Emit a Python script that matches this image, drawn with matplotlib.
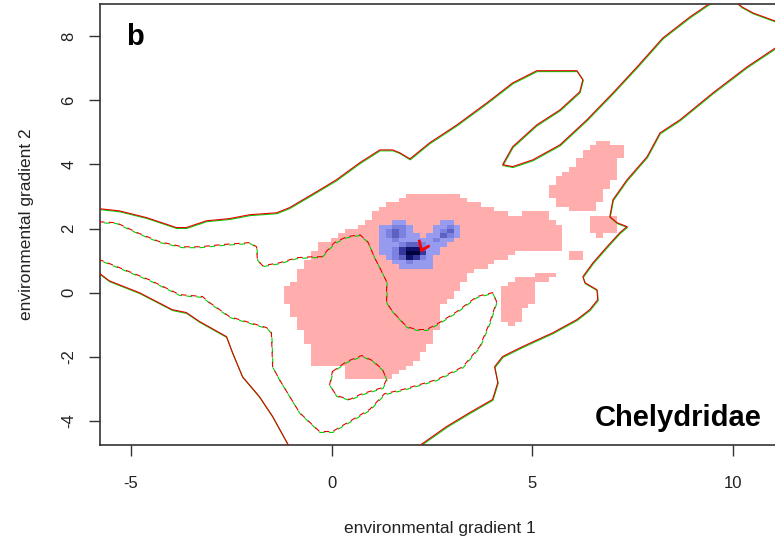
import numpy as np
import matplotlib
matplotlib.use("Agg")
import matplotlib.pyplot as plt
from matplotlib.path import Path
from matplotlib.transforms import offset_copy
from matplotlib.colors import to_rgba

plt.rcParams['font.family'] = ['Liberation Sans', 'DejaVu Sans']
plt.rcParams['axes.unicode_minus'] = False

# axis extent = extent of the 100 x 100 niche grid
XLIM = (-5.77, 11.17)
YLIM = (-4.75, 9.0)
NGRID = 100

XTICKS = [-5, 0, 5, 10]
YTICKS = [-4, -2, 0, 2, 4, 6, 8]
XTICK_LABELS = ['-5', '0', '5', '10']
YTICK_LABELS = ['-4', '-2', '0', '2', '4', '6', '8']
XLABEL = "environmental gradient 1"
YLABEL = "environmental gradient 2"
PANEL = "b"
TAXON = "Chelydridae"

# occupied niche of species 1 (pink cells), outlines
PINK_MAIN = [(1.70, 2.90), (2.02, 3.12), (3.19, 3.12), (3.37, 2.83), (3.89, 2.68),
             (4.39, 2.49), (4.56, 2.40), (4.76, 2.55), (5.26, 2.55), (5.39, 2.43),
             (5.61, 2.18), (5.76, 1.90), (5.76, 1.28), (4.56, 1.28), (4.24, 1.03),
             (3.74, 0.78), (3.39, 0.50), (3.19, 0.19), (3.07, -0.09), (2.87, -0.28),
             (2.62, -0.37), (2.69, -1.00), (2.52, -1.46), (2.19, -1.99), (1.95, -2.31),
             (1.50, -2.65), (0.32, -2.65), (0.32, -2.34), (-0.50, -2.34), (-0.50, -1.71),
             (-0.67, -1.40), (-0.87, -0.84), (-1.00, -0.59), (-1.17, -0.28), (-1.17, 0.09),
             (-0.87, 0.50), (-0.72, 0.93), (-0.50, 1.18), (-0.35, 1.50), (0.00, 1.65),
             (0.15, 1.87), (0.65, 2.02), (0.82, 2.18), (1.00, 2.43), (1.20, 2.68)]
PINK_A = [(6.48, 4.61), (6.78, 4.77), (7.31, 4.49), (7.31, 4.24), (7.11, 4.24),
          (7.11, 3.52), (6.76, 3.21), (6.61, 2.55), (6.11, 2.55), (5.61, 2.74),
          (5.41, 2.99), (5.41, 3.27), (5.76, 3.77), (6.11, 4.05)]
PINK_B = [(6.48, 2.43), (7.11, 2.43), (7.11, 1.90), (6.81, 1.90), (6.81, 1.74),
          (6.63, 1.74), (6.63, 1.90), (6.48, 1.90)]
PINK_C = [(5.94, 1.31), (6.26, 1.31), (6.26, 1.06), (5.94, 1.06)]
PINK_D = [(4.56, 0.40), (5.11, 0.47), (5.11, 0.65), (5.61, 0.65), (5.61, 0.44),
          (5.11, 0.37), (5.11, -0.22), (4.76, -0.62), (4.56, -1.03), (4.26, -0.90),
          (4.26, 0.09)]

# density of species 2 (blue cells), levels 0-6, rows top->bottom,
# first column = grid column 41, top row = grid row 50
BLUE_COL0 = 41
BLUE_ROW_TOP = 50
BLUE_LEVELS = np.array([
    [0, 0, 1, 1, 0, 0, 0, 0, 0, 1, 1, 0],
    [1, 1, 2, 2, 1, 0, 0, 0, 1, 1, 2, 1],
    [1, 2, 3, 2, 1, 0, 0, 0, 1, 2, 3, 1],
    [1, 2, 3, 2, 1, 1, 0, 1, 1, 3, 2, 1],
    [1, 1, 2, 1, 1, 1, 1, 1, 2, 1, 1, 0],
    [1, 1, 1, 2, 3, 3, 2, 1, 1, 1, 0, 0],
    [1, 1, 2, 4, 5, 5, 3, 1, 1, 0, 0, 0],
    [1, 1, 2, 4, 6, 6, 4, 1, 1, 0, 0, 0],
    [0, 1, 2, 3, 5, 4, 2, 1, 0, 0, 0, 0],
    [0, 0, 1, 1, 2, 1, 1, 1, 0, 0, 0, 0],
    [0, 0, 0, 1, 1, 1, 1, 1, 0, 0, 0, 0],
])
PINK = '#ffadad'
BLUE_COLORS = ['#979bf0', '#7c80de', '#5d61c2', '#33369a', '#10126a', '#00003c']

# environment contours (solid = 100 %, dashed = 50 %)
SOLID_LINES = [
    [(-5.80, 2.62), (-5.29, 2.55), (-4.61, 2.34), (-3.87, 2.03), (-3.62, 2.03),
     (-3.12, 2.24), (-2.54, 2.31), (-2.04, 2.43), (-1.37, 2.49), (-1.05, 2.65),
     (-0.37, 3.15), (0.12, 3.52), (0.70, 4.05), (1.20, 4.45), (1.52, 4.45),
     (1.70, 4.36), (1.95, 4.17), (2.44, 4.67), (3.12, 5.23), (3.87, 5.92),
     (4.51, 6.54), (5.11, 6.92), (6.11, 6.92), (6.26, 6.64), (6.18, 6.26),
     (5.69, 5.70), (5.11, 5.23), (4.51, 4.55), (4.26, 3.99), (4.51, 3.93),
     (5.01, 4.14), (5.69, 4.61), (6.36, 5.39), (7.01, 6.23), (7.61, 7.04),
     (8.25, 7.94), (8.93, 8.60), (9.48, 9.07)],
    [(10.07, 9.07), (10.22, 8.91), (10.50, 8.72), (11.20, 8.40)],
    [(11.20, 7.75), (10.35, 7.04), (9.50, 6.23), (8.68, 5.39), (8.18, 4.98),
     (7.86, 4.24), (7.36, 3.52), (7.01, 2.90), (6.93, 2.37), (7.11, 2.18),
     (7.36, 2.06), (7.18, 1.87), (6.86, 1.43), (6.51, 0.93), (6.26, 0.50),
     (6.31, 0.31), (6.61, 0.09), (6.63, -0.22), (6.43, -0.53), (6.11, -0.84),
     (5.51, -1.25), (4.76, -1.68), (4.26, -1.99), (4.06, -2.31), (4.14, -2.80),
     (4.01, -3.33), (3.44, -3.74), (2.87, -4.17), (2.19, -4.77)],
    [(-5.80, 0.62), (-5.54, 0.37), (-4.79, 0.00), (-3.97, -0.53), (-3.62, -0.62),
     (-3.29, -0.90), (-2.62, -1.37), (-2.47, -1.87), (-2.22, -2.62), (-1.80, -3.24),
     (-1.47, -3.86), (-1.07, -4.77)],
]
DASHED_LINES = [
    [(-5.80, 2.21), (-5.36, 2.18), (-4.84, 1.87), (-4.29, 1.59), (-3.72, 1.43),
     (-3.29, 1.43), (-2.72, 1.50), (-2.04, 1.56), (-1.87, 1.43), (-1.85, 1.03),
     (-1.72, 0.84), (-1.30, 0.93), (-0.87, 1.09), (-0.47, 1.12), (-0.25, 1.12),
     (0.07, 1.56), (0.37, 1.74), (0.70, 1.81), (0.90, 1.59), (1.07, 1.09),
     (1.20, 0.78), (1.37, 0.34), (1.37, -0.31), (1.52, -0.59), (1.87, -1.06),
     (2.12, -1.15), (2.37, -1.15), (2.69, -0.93), (3.12, -0.59), (3.62, -0.12),
     (4.01, 0.00), (4.11, -0.28), (3.94, -0.93), (3.69, -1.68), (3.27, -2.31),
     (2.62, -2.71), (1.77, -3.02), (1.32, -3.15), (0.95, -3.64), (0.52, -3.96),
     (0.02, -4.33), (-0.30, -4.33), (-0.80, -3.74), (-1.30, -2.71), (-1.47, -2.31),
     (-1.50, -1.25), (-1.62, -1.09), (-2.54, -0.75), (-3.04, -0.31), (-3.22, -0.12),
     (-3.79, -0.06), (-4.54, 0.40), (-5.66, 0.97), (-5.80, 1.03)],
    [(0.02, -2.46), (0.37, -2.15), (0.75, -1.96), (1.02, -2.12), (1.27, -2.40),
     (1.37, -2.71), (1.27, -2.96), (0.95, -3.08), (0.70, -3.18), (0.45, -3.33),
     (0.12, -3.21), (-0.05, -2.87), (0.02, -2.46)],
]
# centroid shift arrow head
ARROW_X = [2.18, 2.24, 2.44]
ARROW_Y = [1.65, 1.31, 1.47]


def niche_raster():
    dx = (XLIM[1] - XLIM[0]) / NGRID
    dy = (YLIM[1] - YLIM[0]) / NGRID
    xc = XLIM[0] + (np.arange(NGRID) + 0.5) * dx
    yc = YLIM[0] + (np.arange(NGRID) + 0.5) * dy
    XX, YY = np.meshgrid(xc, yc)
    pts = np.column_stack([XX.ravel(), YY.ravel()])
    mask = np.zeros(len(pts), bool)
    for poly in [PINK_MAIN, PINK_A, PINK_B, PINK_C, PINK_D]:
        mask |= Path(poly + [poly[0]]).contains_points(pts)
    img = np.zeros((NGRID, NGRID, 4))
    img[mask.reshape(NGRID, NGRID)] = to_rgba(PINK)
    nr, nc = BLUE_LEVELS.shape
    for r in range(nr):
        for c in range(nc):
            lv = BLUE_LEVELS[r, c]
            if lv:
                img[BLUE_ROW_TOP - r, BLUE_COL0 + c] = to_rgba(BLUE_COLORS[lv - 1])
    return img


fig = plt.figure(figsize=(7.75, 5.47), dpi=100)
ax = fig.add_axes([100 / 775, 1 - 445 / 547, 680 / 775, 441 / 547])
ax.imshow(niche_raster(), origin='lower', extent=(*XLIM, *YLIM),
          interpolation='nearest', aspect='auto', zorder=1)

green_tr = offset_copy(ax.transData, fig=fig, x=0.4, y=-0.9, units='dots')
for line in SOLID_LINES:
    xs, ys = zip(*line)
    ax.plot(xs, ys, color='#00d000', lw=0.8, transform=green_tr, zorder=2)
    ax.plot(xs, ys, color='#e60000', lw=0.8, zorder=3)
for line in DASHED_LINES:
    xs, ys = zip(*line)
    ax.plot(xs, ys, color='#00d000', lw=0.8, ls=(4.5, (5, 4)), transform=green_tr, zorder=2)
    ax.plot(xs, ys, color='#e60000', lw=0.8, ls=(0, (5, 4)), zorder=3)
ax.plot(ARROW_X, ARROW_Y, color='red', lw=2, solid_capstyle='butt', zorder=4)

ax.text(-5.11, 7.73, PANEL, fontsize=21, fontweight='bold', ha='left', va='baseline')
ax.text(10.72, -4.17, TAXON, fontsize=21, fontweight='bold', ha='right', va='baseline')

ax.set_xlim(*XLIM)
ax.set_ylim(*YLIM)
ax.set_xticks(XTICKS)
ax.set_xticklabels(XTICK_LABELS)
ax.set_yticks(YTICKS)
ax.set_yticklabels(YTICK_LABELS, rotation=90, va='center')
ax.tick_params(direction='out', length=8, width=1, labelsize=12, colors='#333333',
               labelcolor='#222222')
ax.tick_params(axis='x', pad=14)
ax.tick_params(axis='y', pad=9)
for sp in ax.spines.values():
    sp.set_color('#333333')
    sp.set_linewidth(1.2)

fig.text(440 / 775, 1 - 528 / 547, XLABEL, fontsize=12.5, ha='center', va='center',
         color='#222222')
fig.text(27 / 775, 1 - 224 / 547, YLABEL, fontsize=12.5, ha='center', va='center',
         rotation=90, color='#222222')

fig.savefig('out.png', dpi=100)
